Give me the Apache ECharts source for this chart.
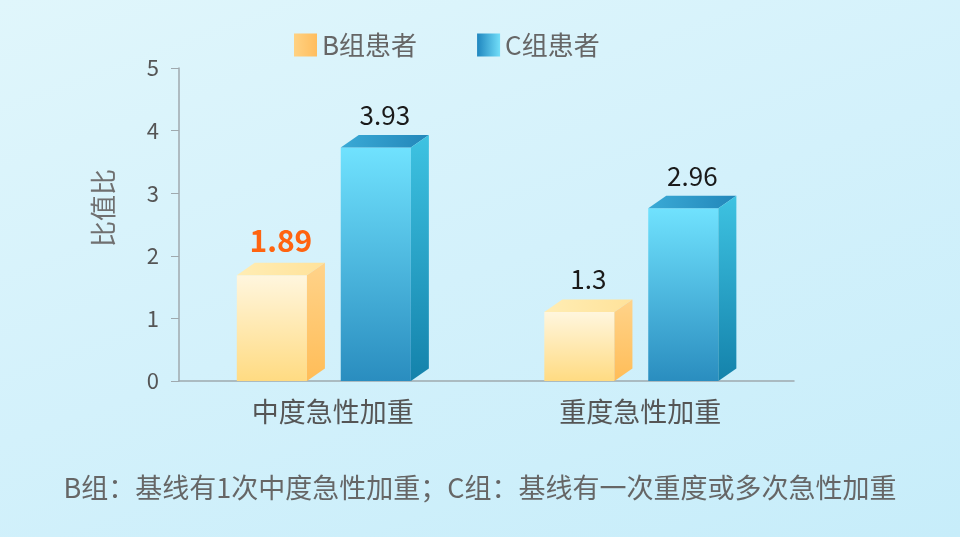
<!DOCTYPE html>
<html>
<head>
<meta charset="utf-8">
<script src="https://cdn.jsdelivr.net/npm/echarts@6/dist/echarts.min.js"></script>
<style>
html,body{margin:0;padding:0;width:960px;height:537px;overflow:hidden;}
#main{width:960px;height:537px;background:linear-gradient(160deg,#e0f6fb 0%,#d3f1fb 50%,#c7edfa 100%);}
</style>
</head>
<body>
<div id="main"></div>
<script>
const categories = ['中度急性加重', '重度急性加重'];
const seriesNames = ['B组患者', 'C组患者'];
const bValues = [1.89, 1.3];
const cValues = [3.93, 2.96];
const yMin = 0, yMax = 5, yInterval = 1;
const yAxisName = '比值比';
const footnote = 'B组：基线有1次中度急性加重；C组：基线有一次重度或多次急性加重';

const FONT = '"Noto Sans CJK SC", "Noto Sans", sans-serif';
const LG = (x1, y1, x2, y2, c1, c2) => new echarts.graphic.LinearGradient(x1, y1, x2, y2, [{offset: 0, color: c1}, {offset: 1, color: c2}]);

const palettes = [
  { front: ['#fff6de', '#ffdb82'], top: ['#ffedb4', '#ffe29a'], side: ['#ffd38a', '#ffbd58'], legend: ['#ffd282', '#ffbd5e'], offset: -0.198 },
  { front: ['#70e2fe', '#2a8dbf'], top: ['#3aaad6', '#2387ba'], side: ['#3ec3e2', '#1482ab'], legend: ['#1f86bf', '#72def9'], offset: 0.14 }
];

const DX = 18, DY = 12.5;

function makeRender(si) {
  return function (params, api) {
    const p = palettes[si];
    const cat = api.value(0), v = api.value(1);
    const base = api.coord([cat, 0]);
    const top = api.coord([cat, v]);
    const band = api.size([1, 0])[0];
    const w = band * 0.228;
    const cx = base[0] + band * p.offset;
    const x0 = cx - w / 2, x1 = cx + w / 2;
    const yb = base[1];
    const yf = top[1] + DY;
    const highlight = (si === 0 && params.dataIndex === 0);
    return {
      type: 'group',
      children: [
        { type: 'polygon', shape: { points: [[x0, yf], [x1, yf], [x1, yb], [x0, yb]] },
          style: { fill: LG(0, 0, 0, 1, p.front[0], p.front[1]) } },
        { type: 'polygon', shape: { points: [[x0, yf], [x1, yf], [x1 + DX, top[1]], [x0 + DX, top[1]]] },
          style: { fill: LG(0, 0, 1, 0, p.top[0], p.top[1]) } },
        { type: 'polygon', shape: { points: [[x1, yf], [x1 + DX, top[1]], [x1 + DX, yb - DY], [x1, yb]] },
          style: { fill: LG(0, 0, 0, 1, p.side[0], p.side[1]) } },
        { type: 'text',
          style: { text: String(v), x: cx + DX / 2, y: top[1] - (highlight ? 22 : 20),
            align: 'center', verticalAlign: 'middle',
            fill: highlight ? '#ff6410' : '#1a1a1a',
            font: (highlight ? 'bold 30px ' : '26px ') + FONT } }
      ]
    };
  };
}

const chart = echarts.init(document.getElementById('main'));
chart.setOption({
  backgroundColor: 'transparent',
  textStyle: { fontFamily: FONT },
  grid: { left: 179, right: 166, top: 68, bottom: 156 },
  legend: {
    left: 289, top: 27, itemWidth: 23, itemHeight: 23, itemGap: 60,
    textStyle: { fontSize: 26, color: '#666', fontFamily: FONT },
    data: seriesNames.map((n, i) => ({ name: n, icon: 'rect',
      itemStyle: { color: LG(0, 0, 1, 0, palettes[i].legend[0], palettes[i].legend[1]) } }))
  },
  xAxis: {
    type: 'category', data: categories,
    axisLine: { lineStyle: { color: '#9fa9ae', width: 1.5 } },
    axisTick: { inside: true, length: 6, lineStyle: { color: '#9fa9ae' } },
    axisLabel: { fontSize: 27, color: '#555', margin: 17, fontFamily: FONT }
  },
  yAxis: {
    type: 'value', min: yMin, max: yMax, interval: yInterval,
    axisLine: { show: true, lineStyle: { color: '#9fa9ae', width: 1.5 } },
    axisTick: { show: true, length: 8, lineStyle: { color: '#9fa9ae' } },
    axisLabel: { fontSize: 22, color: '#555', margin: 20, fontFamily: FONT },
    splitLine: { show: false }
  },
  graphic: [
    { type: 'text', x: 103, y: 208, rotation: Math.PI / 2,
      style: { text: yAxisName, align: 'center', verticalAlign: 'middle', fill: '#707070', font: '26px ' + FONT } },
    { type: 'text', x: 480, y: 488,
      style: { text: footnote, align: 'center', verticalAlign: 'middle', fill: '#666', font: '27px ' + FONT } }
  ],
  series: [
    { name: seriesNames[0], type: 'custom', renderItem: makeRender(0),
      itemStyle: { color: '#ffc870' },
      data: bValues.map((v, i) => [i, v]) },
    { name: seriesNames[1], type: 'custom', renderItem: makeRender(1),
      itemStyle: { color: '#3aa8d4' },
      data: cValues.map((v, i) => [i, v]) }
  ]
});
</script>
</body>
</html>
